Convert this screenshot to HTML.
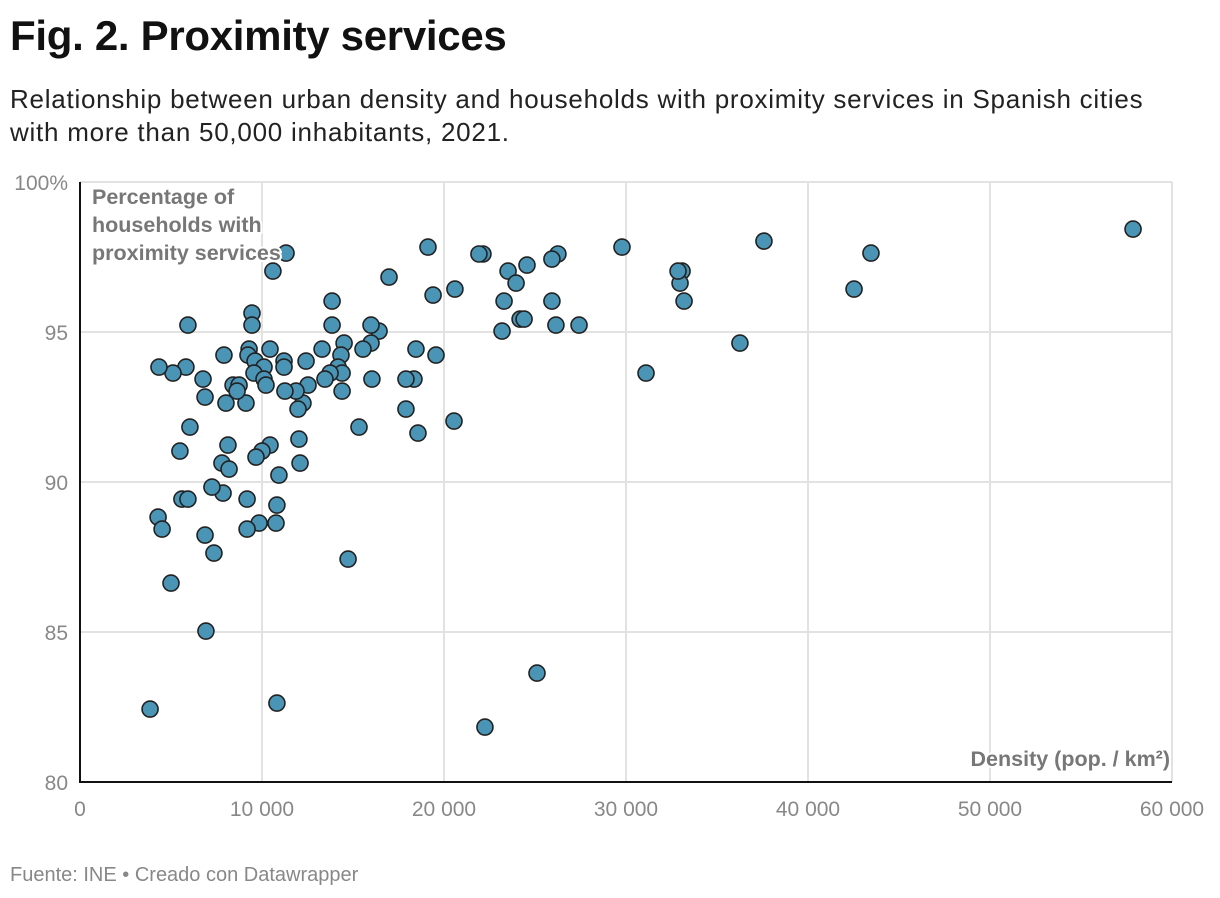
<!DOCTYPE html>
<html><head><meta charset="utf-8"><style>
body{margin:0;background:#fff;font-family:"Liberation Sans",sans-serif;}
#wrap{position:relative;width:1220px;height:898px;overflow:hidden}
h1{position:absolute;left:10px;top:12px;margin:0;font-size:42px;font-weight:bold;color:#111;letter-spacing:-0.3px}
.sub{position:absolute;left:10px;top:83px;font-size:26px;letter-spacing:0.75px;line-height:33px;color:#222;width:1210px}
.foot{position:absolute;left:10px;top:864px;font-size:20px;color:#888}
svg{position:absolute;left:0;top:0}
</style></head><body><div id="wrap">
<h1>Fig. 2. Proximity services</h1>
<div class="sub">Relationship between urban density and households with proximity services in Spanish cities<br>with more than 50,000 inhabitants, 2021.</div>
<svg id="chart" width="1220" height="898"></svg>
<div class="foot">Fuente: INE • Creado con Datawrapper</div>
</div>
<script>
const xTicks=[0,10000,20000,30000,40000,50000,60000];
const xTickLabels=["0","10 000","20 000","30 000","40 000","50 000","60 000"];
const yTicks=[80,85,90,95,100];
const yTickLabels=["80","85","90","95","100%"];
const density=[57860,43460,42530,37580,36260,33080,32970,33190,32860,31100,29780,27420,26260,25930,25930,26150,25110,24560,23520,23960,23300,24180,24400,23190,22250,22140,21920,20600,20550,19120,19400,19560,18460,18350,17910,17910,18570,16980,16430,15990,15990,16040,15550,15330,14730,13850,13850,14510,14340,14180,14400,14400,13740,13300,13460,12420,12530,12250,11980,11870,12030,12090,11320,10600,11210,11210,11260,10440,10440,10930,10820,10770,10820,9450,9450,9290,9230,9620,10110,9560,10110,10220,9120,10000,9670,9840,9180,9180,7910,8410,8740,8630,8020,8130,7800,8190,7860,7250,7360,6870,6920,5930,5820,5110,6760,6870,6040,5490,5600,5930,4340,4290,4510,5000,3850];
const pct=[98.43,97.63,96.43,98.03,94.63,97.03,96.63,96.03,97.03,93.63,97.83,95.23,97.6,97.43,96.03,95.23,83.63,97.23,97.03,96.63,96.03,95.43,95.43,95.03,81.83,97.6,97.6,96.43,92.03,97.83,96.23,94.23,94.43,93.43,93.43,92.43,91.63,96.83,95.03,95.23,94.63,93.43,94.43,91.83,87.43,96.03,95.23,94.63,94.23,93.83,93.63,93.03,93.63,94.43,93.43,94.03,93.23,92.63,92.43,93.03,91.43,90.63,97.63,97.03,94.03,93.83,93.03,94.43,91.23,90.23,89.23,88.63,82.63,95.63,95.23,94.43,94.23,94.03,93.83,93.63,93.43,93.23,92.63,91.03,90.83,88.63,89.43,88.43,94.23,93.23,93.23,93.03,92.63,91.23,90.63,90.43,89.63,89.83,87.63,88.23,85.03,95.23,93.83,93.63,93.43,92.83,91.83,91.03,89.43,89.43,93.83,88.83,88.43,86.63,82.43];
const svg=document.getElementById('chart');const NS='http://www.w3.org/2000/svg';
const X=v=>80+v/60000*1092, Y=v=>782-(v-80)/20*600;
function mk(t,a,p){const e=document.createElementNS(NS,t);for(const k in a)e.setAttribute(k,a[k]);(p||svg).appendChild(e);return e;}
yTicks.forEach((t,i)=>{
 const l=mk('line',{x1:80,x2:1172,y1:Y(t),y2:Y(t),stroke:'#e2e2e2','stroke-width':2});
 
 
 const tx=mk('text',{x:68,y:Y(t)+8,'text-anchor':'end','font-size':21,fill:'#888','font-family':'Liberation Sans, sans-serif'});tx.textContent=yTickLabels[i];
 
 
});
xTicks.forEach((t,i)=>{
 if(t>0){const l=mk('line',{x1:X(t),x2:X(t),y1:182,y2:782,stroke:'#e2e2e2','stroke-width':2});
 
 }
 const tx=mk('text',{x:X(t),y:816,'text-anchor':'middle','font-size':21,fill:'#888','font-family':'Liberation Sans, sans-serif'});tx.textContent=xTickLabels[i];
 
 
});
const ya=mk('line',{x1:80,x2:80,y1:182,y2:783,stroke:'#111','stroke-width':2});


const xa=mk('line',{x1:79,x2:1172,y1:782,y2:782,stroke:'#111','stroke-width':2});


density.forEach((d,i)=>{
 const c=mk('circle',{cx:X(d),cy:Y(pct[i]),r:8,fill:'#4a94b6',stroke:'#222','stroke-width':1.6});
 
 
});
const yt=mk('text',{x:92,y:204,'font-size':21.5,'font-weight':'bold',fill:'#777','font-family':'Liberation Sans, sans-serif',stroke:'#fff','stroke-width':4,'paint-order':'stroke'});


["Percentage of","households with","proximity services"].forEach((s,i)=>{const ts=mk('tspan',{x:92,dy:i?28:0},yt);ts.textContent=s;});
const xt=mk('text',{x:1170,y:766,'text-anchor':'end','font-size':21.5,'font-weight':'bold',fill:'#777','font-family':'Liberation Sans, sans-serif',stroke:'#fff','stroke-width':4,'paint-order':'stroke'});xt.textContent='Density (pop. / km²)';


</script></body></html>
